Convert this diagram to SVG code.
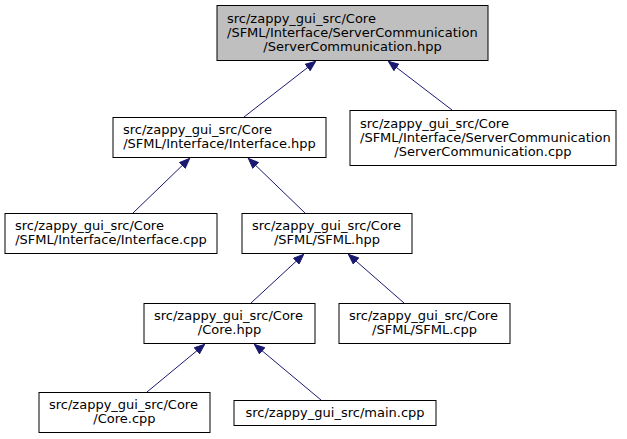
<svg xmlns="http://www.w3.org/2000/svg" width="627" height="439" viewBox="0 0 627 439">
<style>
.n rect{fill:#ffffff;stroke:#000000;stroke-width:1}
#nA rect{fill:#bfbfbf}
text{font-family:"DejaVu Sans",sans-serif;font-size:13px;fill:#000000}
.c{text-anchor:middle}
.e{stroke:#191970;stroke-width:1;fill:none;marker-end:url(#arr)}
</style>
<defs>
<marker id="arr" markerUnits="userSpaceOnUse" viewBox="0 0 11 9" refX="11" refY="4.5" markerWidth="11" markerHeight="9" orient="auto">
<path d="M0.5,0.5 L10.5,4.5 L0.5,8.5 z" fill="#191970" stroke="#191970" stroke-width="1"/>
</marker>
</defs>
<rect width="627" height="439" fill="#ffffff"/>
<g id="edges">
<path class="e" d="M244,117 L316,61"/>
<path class="e" d="M452,110 L388,61"/>
<path class="e" d="M133,213 L190,158"/>
<path class="e" d="M305,213 L248,158"/>
<path class="e" d="M251,303 L304,254"/>
<path class="e" d="M404,303 L348,254"/>
<path class="e" d="M147,392 L205,344"/>
<path class="e" d="M321,400 L254,344"/>
</g>
<g id="nA" class="n">
<rect x="217" y="5.5" width="271" height="55"/>
<text x="227" y="22.5">src/zappy_gui_src/Core</text>
<text x="227" y="36.5">/SFML/Interface/ServerCommunication</text>
<text x="352.5" y="50.5" class="c">/ServerCommunication.hpp</text>
</g>
<g id="nB" class="n">
<rect x="113" y="117.5" width="213" height="40"/>
<text x="123" y="133.5">src/zappy_gui_src/Core</text>
<text x="219.5" y="147.5" class="c">/SFML/Interface/Interface.hpp</text>
</g>
<g id="nC" class="n">
<rect x="350" y="110.5" width="266" height="55"/>
<text x="360" y="127.5">src/zappy_gui_src/Core</text>
<text x="360" y="141.5">/SFML/Interface/ServerCommunication</text>
<text x="483" y="155.5" class="c">/ServerCommunication.cpp</text>
</g>
<g id="nD" class="n">
<rect x="5" y="213.5" width="212" height="40"/>
<text x="15" y="229.5">src/zappy_gui_src/Core</text>
<text x="111" y="243.5" class="c">/SFML/Interface/Interface.cpp</text>
</g>
<g id="nE" class="n">
<rect x="242" y="213.5" width="170" height="40"/>
<text x="252" y="229.5">src/zappy_gui_src/Core</text>
<text x="327" y="243.5" class="c">/SFML/SFML.hpp</text>
</g>
<g id="nF" class="n">
<rect x="144" y="303.5" width="171" height="40"/>
<text x="154" y="319.5">src/zappy_gui_src/Core</text>
<text x="229.5" y="333.5" class="c">/Core.hpp</text>
</g>
<g id="nG" class="n">
<rect x="339" y="303.5" width="171" height="40"/>
<text x="349" y="319.5">src/zappy_gui_src/Core</text>
<text x="424.5" y="333.5" class="c">/SFML/SFML.cpp</text>
</g>
<g id="nH" class="n">
<rect x="39" y="392.5" width="171" height="40"/>
<text x="49" y="408.5">src/zappy_gui_src/Core</text>
<text x="124.5" y="422.5" class="c">/Core.cpp</text>
</g>
<g id="nI" class="n">
<rect x="234" y="400.5" width="202" height="25"/>
<text x="335" y="417" class="c">src/zappy_gui_src/main.cpp</text>
</g>
</svg>
